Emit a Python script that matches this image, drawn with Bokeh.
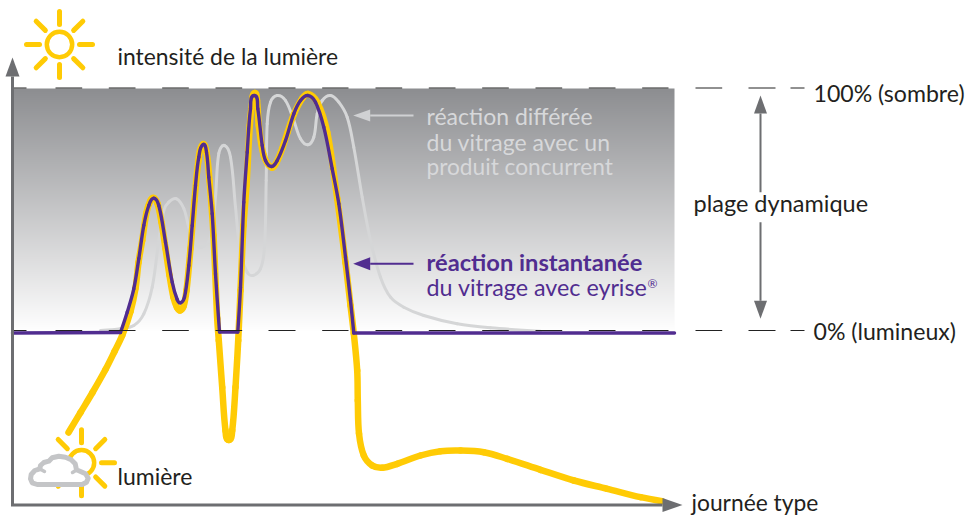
import math
import numpy as np
from bokeh.plotting import figure
from bokeh.models import Range1d
from bokeh.core.properties import value
from bokeh.embed import file_html
from bokeh.resources import INLINE

# time axis runs in arbitrary units; light level is in units above the 0% line (100% = 243)
purple_x = [12,120,126.7,133.3,138.3,143.3,148.3,153.3,158.3,165,171.7,176.7,180,184,188.3,191.7,195,198.3,202.7,206,208.3,211.7,215,219,237.3,240,243.3,246.7,250,253.7,257.3,261.7,265,271,276.7,285,293.3,300,307.3,315,323.3,331.7,338.3,345,350,353.3,674]
purple_y = [-1.5,-1,19.3,42.7,72.7,106,126,133.3,126,89.3,49.3,32,28.7,34.3,66,106,146,174.3,187,179.3,154.3,117.7,57.7,-0.5,-0.5,44,129.3,179.3,222.7,236,222.7,186,171,165,171,191,217.7,231,236,229.3,204.3,162.7,127.7,74.3,31,-1.5,-1.5]

yellow_x = [68,80,92,105,114,121.7,130,135,138,141.7,146,150,153.3,157,161,165,169,173,176.5,179.5,183,186,190,194,198,202.3,206,209,213,216.7,218.3,221.7,225,228.3,231.7,235,237.7,240,243,246,249.3,251.7,254,256.5,258.3,263.3,271,276,281.7,287,293.3,301.7,307.3,316.7,326.7,336.7,345,350,353.3,356.7,357.3,358.5,363.3,371.7,381.7,396.7,420,440,460,483.3,506.7,540,573.3,606.7,640,661.7]
yellow_y = [-101,-81,-61,-38,-20,-4,20,43,69,91,119,131,133.5,128,109,83,56,34,24,21,25,41,83,131,171,187,179,151,96,13,-9,-55.7,-99,-108.5,-99,-55.7,-9,41,106,146,206,229.3,238.5,231,206,176,164,169,183,199,217,233,237.5,229.3,199.3,133,69,26,-2,-39,-69,-102,-124,-134,-136.3,-132.3,-124,-119.7,-119,-120.7,-127.3,-138.3,-149,-157.3,-165.7,-169.7]

gray_x = [100,120,133.3,143.3,151.7,158.3,163.3,168.3,176,183.3,188.3,195,201.7,210,215,218.3,224,230,235,240,246.7,252.3,260,264,265.7,266.7,270,276.7,285,293.3,300,307.3,313.3,316.7,321.7,330,338.3,346.7,353.3,361.7,370,380,390,403.3,423.3,456.7,490,540]
gray_y = [1,2.7,6,17.7,44.3,91,121,129.3,132.7,123,104.3,87.7,84.3,94.3,134.3,178,186,174.3,124.3,77.7,59.3,56,62.7,84.3,151,207.7,229.3,236,231,211,192.7,186.7,194.3,217.7,231,236,229.3,214.3,184.3,134.3,91,54.3,34.3,24.3,16,7.7,3.7,0.3]

dash_starts = [55,108.3,161.7,215,268,321.7,375,428.3,481.7,535,588.3,641.7,695,748,790]
dash_ends = [81.7,135,188.3,241.7,295,348,401.7,455,508.3,561.7,615,668,721.7,775,804]

labels = ["intensité de la lumière","lumière","journée type","100% (sombre)","0% (lumineux)","plage dynamique"]
label_x = [117,117,691,813,813,693]
label_py = [55,475,501,92,330,202]
label_size = ["22.9px","23px","22.8px","23.1px","23.1px","23.5px"]
rival_lines = ["réaction différée","du vitrage avec un","produit concurrent"]
rival_py = [115,141,166]
rival_size = ["23px","23px","22.7px"]

YELLOW="#FFCB05"; PURPLE="#512D90"; GRAYLINE="#D5D6D7"; AXIS="#6D6E71"; CLOUD="#C4C5C7"; RIVAL="#D7D8DA"
FONT=value("Lato")
lv=lambda py:331-py

p=figure(width=968,height=515,x_range=Range1d(0,968),y_range=Range1d(331-515,331),
         output_backend="svg",toolbar_location=None,min_border=0,
         outline_line_color=None,background_fill_color="white",border_fill_color="white")
p.xaxis.visible=False;p.yaxis.visible=False;p.grid.visible=False

# shaded band
top=np.array([141,142,145]);bot=np.array([255,255,255])
rows=243
img=np.zeros((rows,1),dtype=np.uint32)
v=img.view(dtype=np.uint8).reshape((rows,1,4))
for i in range(rows):
    c=bot+(top-bot)*i/(rows-1)
    v[i,0,:3]=c.astype(np.uint8);v[i,0,3]=255
p.image_rgba(image=[img],x=12,y=0,dw=662,dh=243)

def smooth(xs,ys,color,width,corners=()):
    """Draw a smooth path through the read points (corners stay sharp)."""
    n=len(xs);seg=[[],[],[],[],[],[],[],[]]
    def tan(i):
        if i==0 or i==n-1 or xs[i] in corners: return None
        dx,dy=xs[i+1]-xs[i-1],ys[i+1]-ys[i-1];L=math.hypot(dx,dy) or 1
        return dx/L,dy/L
    for i in range(n-1):
        L=math.hypot(xs[i+1]-xs[i],ys[i+1]-ys[i])/3
        t0=tan(i);t1=tan(i+1)
        c0=(xs[i]+t0[0]*L,ys[i]+t0[1]*L) if t0 else (xs[i],ys[i])
        c1=(xs[i+1]-t1[0]*L,ys[i+1]-t1[1]*L) if t1 else (xs[i+1],ys[i+1])
        for lst,val in zip(seg,(xs[i],ys[i],xs[i+1],ys[i+1],c0[0],c0[1],c1[0],c1[1])): lst.append(val)
    p.bezier(x0=seg[0],y0=seg[1],x1=seg[2],y1=seg[3],cx0=seg[4],cy0=seg[5],cx1=seg[6],cy1=seg[7],
             line_color=color,line_width=width,line_cap="round")

# curves
smooth(gray_x,gray_y,GRAYLINE,3)
smooth(yellow_x,yellow_y,YELLOW,6.5)
smooth(purple_x,purple_y,PURPLE,3.4,corners=(120,219,237.3,353.3))

# dashes
for py in (87.5,330):
    xs0=[12]+dash_starts;xs1=[26]+dash_ends
    p.segment(x0=xs0,y0=[lv(py)]*len(xs0),x1=xs1,y1=[lv(py)]*len(xs0),line_color="#222222",line_width=1)

def arrow(x0,py0,x1,py1,hl,hw,color,lw):
    dx,dy=x1-x0,py1-py0;L=math.hypot(dx,dy);ux,uy=dx/L,dy/L
    bx,by=x1-ux*hl,py1-uy*hl
    p.line([x0,bx],[lv(py0),lv(by)],line_color=color,line_width=lw)
    p.patch([x1,bx-uy*hw,bx+uy*hw],[lv(py1),lv(by+ux*hw),lv(by-ux*hw)],fill_color=color,line_color=None)

arrow(12,505,12,57,19,7,AXIS,3)
arrow(10.5,504.5,682,504.5,20,7,AXIS,3)
arrow(760,191.7,760,95,18,6.5,AXIS,2)
arrow(760,221.7,760,318.3,18,6.5,AXIS,2)
arrow(413,115,352.7,115,17,6,"#D0D1D3",2)
arrow(413,263.3,352.7,263.3,17,6.5,PURPLE,2)

def sun(cx,cy):
    a=[i*math.pi/4 for i in range(8)]
    p.segment(x0=[cx+20*math.cos(t) for t in a],y0=[lv(cy)+20*math.sin(t) for t in a],
              x1=[cx+33*math.cos(t) for t in a],y1=[lv(cy)+33*math.sin(t) for t in a],
              line_color=YELLOW,line_width=5,line_cap="round")
    p.circle(x=[cx],y=[lv(cy)],radius=12.7,fill_color=None,line_color=YELLOW,line_width=4.5)
sun(59,44)
sun(81,462.3)

cx=[36.7,81.7,86,87.7,85,80,76,74.7,70.7,65,58.3,51.7,48.3,43.3,40,39.3,34.3,30.7,30,31.7]
cy=[484,484,481.7,477.7,473.3,471,469.3,463.3,459.3,456.7,455.7,457.3,460.7,462,465,468.3,470,474,478.3,482.3]
p.patch(cx,[lv(y) for y in cy],fill_color="white",line_color=CLOUD,line_width=5,line_join="round")
p.segment(x0=[39.5,76],y0=[lv(468.5),lv(469.5)],x1=[44,72],y1=[lv(471),lv(472)],line_color=CLOUD,line_width=3.5,line_cap="round")

# text
for t,x,y,s in zip(labels,label_x,label_py,label_size):
    p.text(x=[x],y=[lv(y)],text=[t],text_font=FONT,text_font_size=s,text_color="#231F20",text_baseline="middle")
for t,y,s in zip(rival_lines,rival_py,rival_size):
    p.text(x=[426],y=[lv(y)],text=[t],text_font=FONT,text_font_size=s,text_color=RIVAL,text_baseline="middle")
p.text(x=[426],y=[lv(261)],text=["réaction instantanée"],text_font=FONT,text_font_size="23.7px",text_font_style="bold",text_color=PURPLE,text_baseline="middle")
p.text(x=[426],y=[lv(286)],text=["du vitrage avec eyrise"],text_font=FONT,text_font_size="23.3px",text_color=PURPLE,text_baseline="middle")
p.text(x=[647],y=[lv(283)],text=["®"],text_font=FONT,text_font_size="12px",text_color=PURPLE,text_baseline="middle")

open("out.html","w").write(file_html(p,INLINE))
